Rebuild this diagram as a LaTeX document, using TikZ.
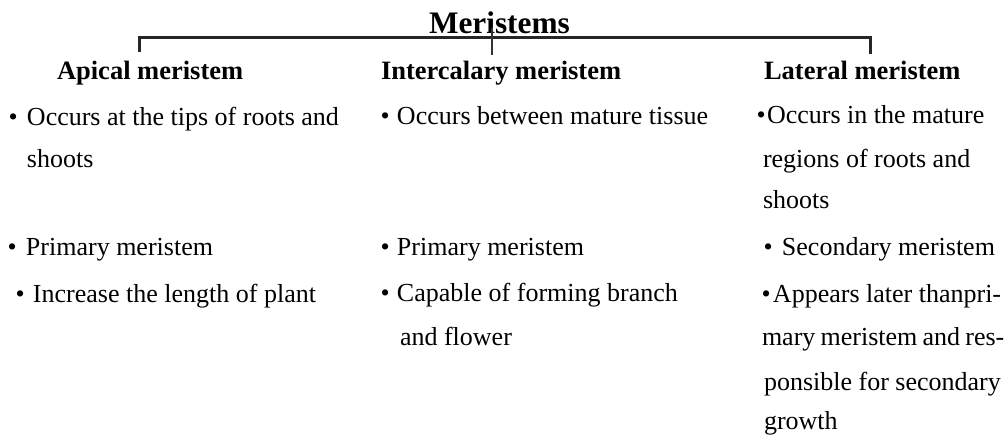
\documentclass[tikz,border=0pt]{standalone}
\usepackage{fontspec}
\setmainfont{Liberation Serif}
\newcommand\bl[1]{\makebox[#1pt][l]{•}}
\newcommand\tsp{\hspace{5.2pt}}
\tikzset{
  body/.style={anchor=base west, inner sep=0pt, outer sep=0pt, font=\fontsize{26}{30}\selectfont},
  head/.style={anchor=base west, inner sep=0pt, outer sep=0pt, font=\bfseries\fontsize{26.5}{30}\selectfont},
  ttl/.style={anchor=base west, inner sep=0pt, outer sep=0pt, font=\bfseries\fontsize{31.3}{36}\selectfont},
  brk/.style={line width=3pt, black!85},
  tick/.style={line width=2.5pt, black!80}
}
\begin{document}
\begin{tikzpicture}[x=1pt,y=-1pt]
\useasboundingbox (0,0) rectangle (1008,434);
% title
\node[ttl] (title) at (429,33) {Meristems};
% bracket
\coordinate (ltop) at (139,37);
\coordinate (lbot) at (139,52);
\coordinate (rtop) at (870,37);
\coordinate (rbot) at (870,54);
\coordinate (mtop) at (492,28);
\coordinate (mbot) at (492,55);
\draw[brk] (lbot) -- (ltop) -- (rtop) -- (rbot);
\draw[tick] (mtop) -- (mbot);
% headers
\node[head] (hA) at (57,79) {Apical meristem};
\node[head] (hI) at (381,79) {Intercalary meristem};
\node[head] (hL) at (764,79) {Lateral meristem};
% column 1
\node[body] (a1) at (8.7,125) {\bl{18.3}Occurs at the tips of roots and};
\node[body] (a2) at (27,167) {shoots};
\node[body] (a3) at (7.7,255) {\bl{18.3}Primary meristem};
\node[body] (a4) at (15.7,302) {\bl{17.3}Increase the length of plant};
% column 2
\node[body] (i1) at (380.7,124) {\bl{16.3}Occurs between mature tissue};
\node[body] (i2) at (380.7,255) {\bl{16.3}Primary meristem};
\node[body] (i3) at (380.7,301) {\bl{16.3}Capable of forming branch};
\node[body] (i4) at (400,345) {and flower};
% column 3
\node[body] (l1) at (756.7,123) {\bl{10.3}Occurs in the mature};
\node[body] (l2) at (763,167) {regions of roots and};
\node[body] (l3) at (763,208) {shoots};
\node[body] (l4) at (763.7,255) {\bl{18.3}Secondary meristem};
\node[body] (l5) at (761.7,302) {\bl{11.3}Appears later thanpri-};
\node[body] (l6) at (762,345) {mary\tsp meristem\tsp and\tsp res-};
\node[body] (l7) at (764,390) {ponsible for secondary};
\node[body] (l8) at (764,429) {growth};
\end{tikzpicture}
\end{document}
